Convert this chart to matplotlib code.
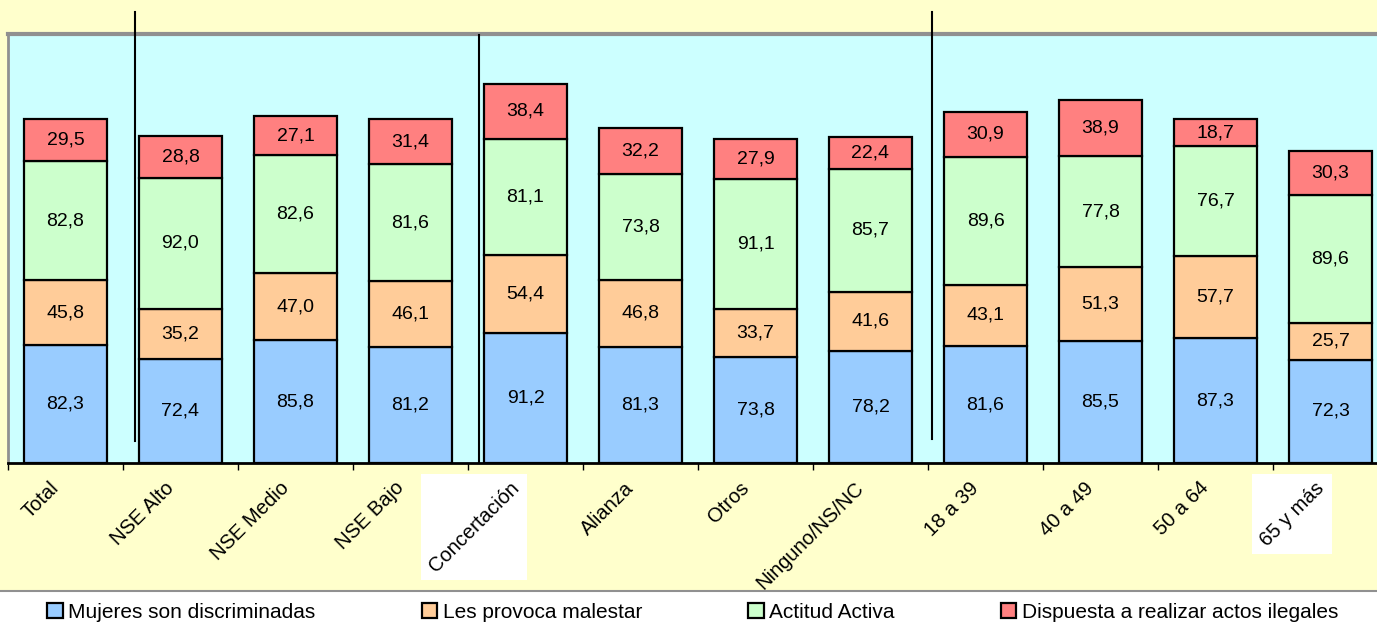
import matplotlib.pyplot as plt
from matplotlib.patches import Rectangle
from matplotlib.lines import Line2D
import matplotlib.transforms as mtransforms
import numpy as np

plt.rcParams['font.family'] = ['Liberation Sans', 'DejaVu Sans']

# categorias y series
categorias = ['Total', 'NSE Alto', 'NSE Medio', 'NSE Bajo', 'Concertación', 'Alianza',
              'Otros', 'Ninguno/NS/NC', '18 a 39', '40 a 49', '50 a 64', '65 y más']
mujeres = [82.3, 72.4, 85.8, 81.2, 91.2, 81.3, 73.8, 78.2, 81.6, 85.5, 87.3, 72.3]
malestar = [45.8, 35.2, 47.0, 46.1, 54.4, 46.8, 33.7, 41.6, 43.1, 51.3, 57.7, 25.7]
activa = [82.8, 92.0, 82.6, 81.6, 81.1, 73.8, 91.1, 85.7, 89.6, 77.8, 76.7, 89.6]
ilegales = [29.5, 28.8, 27.1, 31.4, 38.4, 32.2, 27.9, 22.4, 30.9, 38.9, 18.7, 30.3]

series = [('Mujeres son discriminadas', mujeres, '#99CCFF'),
          ('Les provoca malestar', malestar, '#FFCC99'),
          ('Actitud Activa', activa, '#CCFFCC'),
          ('Dispuesta a realizar actos ilegales', ilegales, '#FF8080')]

W, H = 1377, 634
fig = plt.figure(figsize=(W / 100, H / 100), dpi=100)
fig.patch.set_facecolor('white')

# fondo amarillo del area del grafico
fig.add_artist(Rectangle((0, 43 / H), 1, 1 - 43 / H, transform=fig.transFigure,
                         facecolor='#FFFFCC', edgecolor='none', zorder=0))

ax = fig.add_axes([8 / W, 171 / H, 1380 / W, 429 / H])
ax.set_facecolor('#CCFFFF')
ax.set_zorder(2)

x = np.arange(len(categorias))
bottom = np.zeros(len(categorias))
handles = []
for nombre, vals, color in series:
    vals = np.array(vals)
    b = ax.bar(x, vals, 0.72, bottom=bottom, color=color, edgecolor='black',
               linewidth=1.6, label=nombre, zorder=3)
    handles.append(b)
    for xi, v, bo in zip(x, vals, bottom):
        ax.text(xi, bo + v / 2, f'{v:.1f}'.replace('.', ','), ha='center', va='center',
                fontsize=14, zorder=4)
    bottom += vals

ax.set_xlim(-0.5, len(categorias) - 0.5)
ax.set_ylim(0, 300)
ax.set_yticks([])
ax.set_xticks(x)
ax.set_xticklabels(categorias, rotation=45, ha='right', fontsize=14.5)
ax.tick_params(axis='x', which='major', length=0, pad=11)
ax.set_xticks(np.arange(-0.5, len(categorias), 1), minor=True)
ax.tick_params(axis='x', which='minor', length=5, width=1, color='black')
desplazar = mtransforms.ScaledTranslation(-0.03, 0, fig.dpi_scale_trans)
for lab in ax.get_xticklabels():
    lab.set_transform(lab.get_transform() + desplazar)

ax.spines['top'].set_color('#909090')
ax.spines['top'].set_linewidth(3)
ax.spines['left'].set_color('#909090')
ax.spines['left'].set_linewidth(2)
ax.spines['right'].set_visible(False)
ax.spines['bottom'].set_color('black')
ax.spines['bottom'].set_linewidth(2)

# cuadros blancos detras de algunas etiquetas
fig.canvas.draw()
for lab in ax.get_xticklabels():
    if lab.get_text() in ('Concertación', '65 y más'):
        bb = lab.get_window_extent()
        p = 4
        ax.add_artist(Rectangle((bb.x0 - p, bb.y0 - p), bb.width + 2 * p, bb.height + 2 * p,
                                transform=None, facecolor='white', edgecolor='none',
                                zorder=-1, clip_on=False))

# zona blanca de la leyenda
fig.add_artist(Rectangle((0, 0), 1, 43 / H, transform=fig.transFigure,
                         facecolor='white', edgecolor='none', zorder=3))
fig.add_artist(Line2D([0, 1], [43 / H, 43 / H], transform=fig.transFigure,
                      color='#909090', lw=1.5, zorder=3))

# lineas separadoras de grupos
for xp, y0, y1 in [(135, 12, 441), (479, 35, 463), (932, 12, 439)]:
    fig.add_artist(Line2D([xp / W, xp / W], [1 - y0 / H, 1 - y1 / H],
                          transform=fig.transFigure, color='black', lw=1.5, zorder=5))

leg = fig.legend(handles=handles, loc='center', bbox_to_anchor=(0.503, 22 / H), ncol=4,
                 frameon=False, fontsize=15, handlelength=0.75, handleheight=0.75,
                 handletextpad=0.25, columnspacing=5.1)
leg.set_zorder(6)

fig.savefig('out.png', dpi=100)
